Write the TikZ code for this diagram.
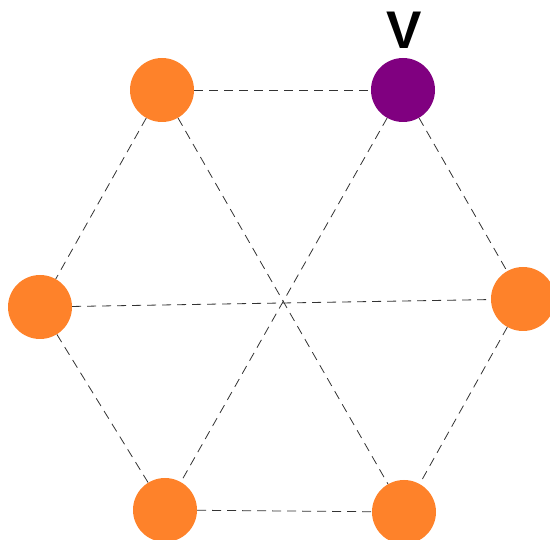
\documentclass[tikz,border=0pt]{standalone}
\usepackage{fontspec}
\setmainfont{Liberation Sans}
\definecolor{dotorange}{RGB}{254,130,42}
\definecolor{dotpurple}{RGB}{128,0,128}
\begin{document}
\begin{tikzpicture}[x=1pt,y=-1pt,
  dot/.style={circle,minimum size=64pt,inner sep=0pt,fill=#1},
  edge/.style={draw=black!80,line width=0.8pt,dash pattern=on 9pt off 6pt}]
\useasboundingbox (0,0) rectangle (550,540);
\node[dot=dotorange] (tl) at (162,90) {};
\node[dot=dotpurple] (tr) at (403,90) {};
\node[dot=dotorange] (l) at (40,307) {};
\node[dot=dotorange] (r) at (523,299) {};
\node[dot=dotorange] (bl) at (165,510) {};
\node[dot=dotorange] (br) at (404,512) {};
\node[font=\bfseries\fontsize{53}{53}\selectfont,inner sep=0pt] (vlabel) at (404,30) {V};
\path[edge] (tl) -- (tr);
\path[edge] (tl) -- (l);
\path[edge] (tl) -- (br);
\path[edge] (tr) -- (r);
\path[edge] (tr) -- (bl);
\path[edge] (l) -- (r);
\path[edge] (l) -- (bl);
\path[edge] (r) -- (br);
\path[edge] (bl) -- (br);
\end{tikzpicture}
\end{document}
